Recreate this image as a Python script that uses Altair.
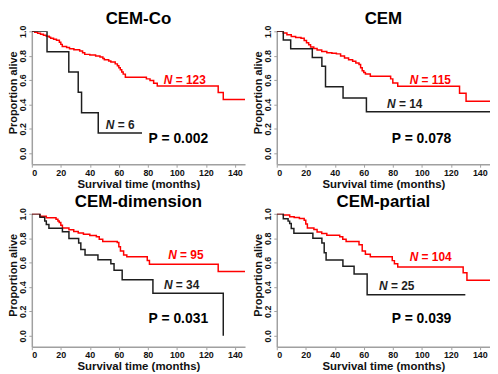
import altair as alt
import pandas as pd

# ---------------- data ----------------
titles = ["CEM-Co", "CEM", "CEM-dimension", "CEM-partial"]
x_ticks = [0, 20, 40, 60, 80, 100, 120, 140]
y_ticks = [0.0, 0.2, 0.4, 0.6, 0.8, 1.0]

# CEM-Co
co_red_t = [0, 2, 4, 6, 8, 10, 12, 13, 15, 17, 19, 20, 21, 24, 26, 29, 33, 35, 36.5, 40, 44,
            47, 49, 50, 53, 54.5, 57.5, 59, 60, 61, 62, 63, 64.5, 79, 81.5, 84, 86.5, 128.5, 132, 147]
co_red_s = [1.0, 0.992, 0.984, 0.976, 0.968, 0.96, 0.951, 0.943, 0.935, 0.927, 0.91, 0.893, 0.876,
            0.867, 0.858, 0.849, 0.839, 0.825, 0.811, 0.805, 0.798, 0.789, 0.778, 0.766, 0.757, 0.748,
            0.733, 0.717, 0.701, 0.684, 0.667, 0.649, 0.623, 0.61, 0.596, 0.575, 0.551, 0.498, 0.441, 0.441]
co_blk_t = [0, 10.5, 25.5, 32, 34.3, 45.8, 76]
co_blk_s = [1.0, 0.833, 0.667, 0.5, 0.333, 0.167, 0.167]

# CEM
cem_red_t = [0, 4.5, 7, 10, 13, 16.7, 18.9, 20.5, 22, 23.3, 25.5, 27.8, 31, 34.5, 38, 41.1, 44, 46.7,
             49.5, 52.3, 54.5, 56.7, 57.8, 58.9, 60, 61.1, 64.5, 78.5, 80, 83.4, 126, 130.5, 147]
cem_red_s = [1.0, 0.986, 0.971, 0.957, 0.95, 0.943, 0.925, 0.907, 0.89, 0.872, 0.859, 0.846, 0.835,
             0.825, 0.82, 0.815, 0.798, 0.781, 0.767, 0.754, 0.741, 0.728, 0.702, 0.676, 0.663, 0.65,
             0.631, 0.61, 0.576, 0.55, 0.492, 0.427, 0.427]
cem_blk_t = [0, 4.5, 9.6, 24.5, 31.1, 33.6, 45.7, 61.8, 147]
cem_blk_s = [1.0, 0.929, 0.857, 0.786, 0.714, 0.545, 0.453, 0.34, 0.34]

# CEM-dimension
dim_red_t = [0, 5.6, 10, 16.7, 18, 18.9, 20, 21.1, 25.6, 28.9, 32, 35.6, 40, 44.5, 46.5, 48.9, 58.9,
             60, 61.1, 63.3, 65.5, 79.6, 81.1, 128.5, 147]
dim_red_s = [1.0, 0.98, 0.968, 0.955, 0.942, 0.929, 0.906, 0.884, 0.87, 0.855, 0.843, 0.832, 0.822,
             0.812, 0.792, 0.773, 0.765, 0.73, 0.695, 0.663, 0.647, 0.617, 0.587, 0.527, 0.527]
dim_blk_t = [0, 5.6, 8.9, 10, 11.8, 21.1, 25.6, 32.3, 33.8, 36.7, 45.6, 54.5, 56.7, 62.3, 83.5, 132]
dim_blk_s = [1.0, 0.971, 0.941, 0.912, 0.882, 0.853, 0.798, 0.76, 0.707, 0.663, 0.624, 0.59, 0.538,
             0.46, 0.348, 0.0]

# CEM-partial
par_red_t = [0, 4.5, 8.9, 12, 15.6, 18.9, 20, 21.1, 25.6, 27.8, 31, 34.5, 43.4, 45.5, 47.8, 56.7,
             58.9, 61.1, 64.5, 79.6, 81.1, 83.4, 128.5, 131.1, 147]
par_red_s = [1.0, 0.99, 0.976, 0.969, 0.962, 0.947, 0.916, 0.884, 0.871, 0.851, 0.838, 0.824, 0.812,
             0.792, 0.773, 0.746, 0.695, 0.668, 0.647, 0.616, 0.59, 0.564, 0.517, 0.455, 0.455]
par_blk_t = [0, 4.5, 7.8, 8.9, 10, 11.8, 24.9, 31.1, 32.7, 34, 45.6, 53.3, 62.3, 130]
par_blk_s = [1.0, 0.96, 0.94, 0.92, 0.88, 0.84, 0.8, 0.76, 0.68, 0.621, 0.57, 0.507, 0.337, 0.337]

n_red = ["123", "115", "95", "104"]
n_black = ["6", "14", "34", "25"]
p_values = ["0.002", "0.078", "0.031", "0.039"]

# ---------------- layout / style ----------------
# annotation anchors (months, proportion): left edge, baseline
n_red_pos = [(91, 0.57), (91.6, 0.571), (94, 0.627), (91.6, 0.609)]
n_blk_pos = [(51, 0.2), (76, 0.374), (91.1, 0.384), (70.5, 0.379)]
p_pos = [(80.5, 0.084), (79.3, 0.085), (80.5, 0.105), (79.3, 0.105)]

FONT = "Liberation Sans"
RED = "#ff0000"
BLACK = "#1e1e1e"
AXIS_GRAY = "#a0a0a0"
W, H = 215, 134
X_DOM = [0, 147]
Y_DOM = [-0.09, 1.0]


def panel(i, red_t, red_s, blk_t, blk_s):
    curves = pd.concat([
        pd.DataFrame({"t": red_t, "s": red_s, "g": "red"}),
        pd.DataFrame({"t": blk_t, "s": blk_s, "g": "black"}),
    ])
    x = alt.X("t:Q", scale=alt.Scale(domain=X_DOM, nice=False, zero=False),
              axis=alt.Axis(values=x_ticks, title="Survival time (months)",
                            titleFontSize=11.5, titleFont=FONT, titleFontWeight="bold"))
    y = alt.Y("s:Q", scale=alt.Scale(domain=Y_DOM, nice=False, zero=False),
              axis=alt.Axis(values=y_ticks, format=".1f", title="Proportion alive",
                            labelAngle=270, titleY=H * (Y_DOM[1] - 0.5) / (Y_DOM[1] - Y_DOM[0])))
    color = alt.Color("g:N", scale=alt.Scale(domain=["red", "black"], range=[RED, BLACK]), legend=None)

    lines = alt.Chart(curves).mark_line(
        interpolate="step-after", strokeWidth=1.5, clip=True
    ).encode(x=x, y=y, color=color)

    anno = pd.DataFrame({
        "t": [n_red_pos[i][0], n_blk_pos[i][0]],
        "s": [n_red_pos[i][1], n_blk_pos[i][1]],
        "n": ["N", "N"],
        "rest": ["= " + n_red[i], "= " + n_black[i]],
        "g": ["red", "black"],
    })
    n_italic = alt.Chart(anno).mark_text(
        align="left", baseline="alphabetic", font=FONT, fontSize=12,
        fontWeight="bold", fontStyle="italic"
    ).encode(x=x, y=y, text="n:N", color=color)
    n_rest = alt.Chart(anno).mark_text(
        align="left", baseline="alphabetic", font=FONT, fontSize=12,
        fontWeight="bold", dx=12
    ).encode(x=x, y=y, text="rest:N", color=color)

    pdf = pd.DataFrame({"t": [p_pos[i][0]], "s": [p_pos[i][1]], "p": ["P = " + p_values[i]]})
    ptext = alt.Chart(pdf).mark_text(
        align="left", baseline="alphabetic", font=FONT, fontSize=14,
        fontWeight="bold", color="#000000"
    ).encode(x=x, y=y, text="p:N")

    return alt.layer(lines, n_italic, n_rest, ptext).properties(
        width=W, height=H, title=titles[i]
    )


p1 = panel(0, co_red_t, co_red_s, co_blk_t, co_blk_s)
p2 = panel(1, cem_red_t, cem_red_s, cem_blk_t, cem_blk_s)
p3 = panel(2, dim_red_t, dim_red_s, dim_blk_t, dim_blk_s)
p4 = panel(3, par_red_t, par_red_s, par_blk_t, par_blk_s)

chart = alt.vconcat(
    alt.hconcat(p1, p2, spacing=8),
    alt.hconcat(p3, p4, spacing=8),
    spacing=2,
).properties(
    padding=0
).configure_view(
    stroke=None
).configure_axis(
    grid=False,
    domainColor=AXIS_GRAY,
    domainWidth=1.5,
    tickColor=AXIS_GRAY,
    tickSize=3,
    labelFont=FONT,
    labelFontSize=9,
    labelFontWeight="bold",
    labelColor="#111111",
    titleFont=FONT,
    titleFontSize=11,
    titleFontWeight="bold",
    titleColor="#111111",
).configure_axisX(
    labelPadding=1,
    titlePadding=1,
).configure_axisY(
    labelPadding=1,
    titlePadding=0,
).configure_title(
    font=FONT,
    fontSize=17,
    fontWeight="bold",
    color="#000000",
    anchor="middle",
    frame="group",
    offset=-3,
)

chart.save("out.html", embed_options={"renderer": "svg", "actions": False})
